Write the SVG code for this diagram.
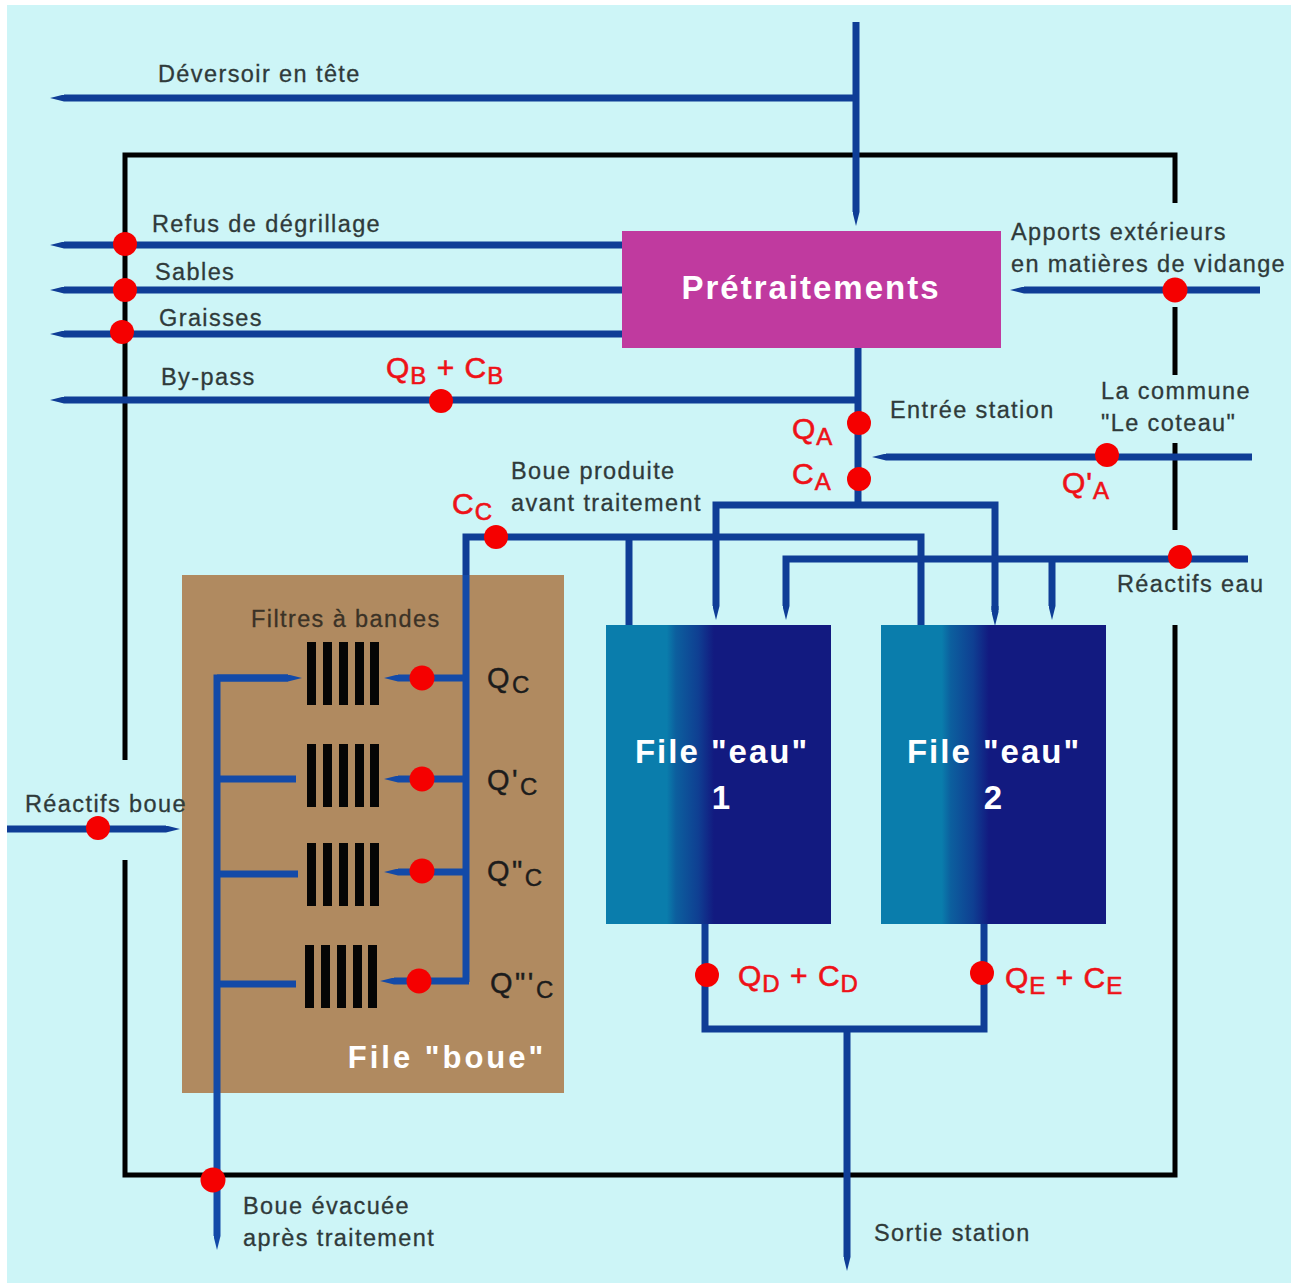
<svg xmlns="http://www.w3.org/2000/svg" width="1293" height="1283" viewBox="0 0 1293 1283">
<style>
text{font-family:"Liberation Sans",Arial,sans-serif}
.l{font-size:23.5px;fill:#2f3a3a;stroke:#2f3a3a;stroke-width:.3;letter-spacing:1.4px}
.q{font-size:30px;fill:#ee1118;stroke:#ee1118;stroke-width:.6;letter-spacing:1px}
.k{font-size:29px;fill:#1c1c1c;stroke:#1c1c1c;stroke-width:.4;letter-spacing:2.5px}
.t{fill:#fff;font-weight:bold;text-anchor:middle;letter-spacing:2px}
.s{font-size:24px}
.b{fill:none;stroke:#0f3d96;stroke-width:7}
.g{fill:none;stroke:#134aa8;stroke-width:7}
.e{marker-end:url(#tip)}
.h{marker-end:url(#tipg)}
.f{fill:none;stroke:#000;stroke-width:5}
.d{fill:#f50000}
.bar{fill:#050505}
</style>
<defs>
<marker id="tip" viewBox="0 0 2 1" refX="0" refY="0.5" markerWidth="2" markerHeight="1" orient="auto"><path d="M0 0L2 .5L0 1Z" fill="#0f3d96"/></marker>
<marker id="tipg" viewBox="0 0 2 1" refX="0" refY="0.5" markerWidth="2" markerHeight="1" orient="auto"><path d="M0 0L2 .5L0 1Z" fill="#134aa8"/></marker>
<linearGradient id="eau" x1="0" x2="1" y1="0" y2="0"><stop offset="0.27" stop-color="#0a7dac"/><stop offset="0.31" stop-color="#0c5f9e"/><stop offset="0.41" stop-color="#0f3f92"/><stop offset="0.48" stop-color="#121a80"/><stop offset="1" stop-color="#121a80"/></linearGradient>
<g id="filter"><rect class="bar" x="0" width="9" height="63"/><rect class="bar" x="16" width="9" height="63"/><rect class="bar" x="32" width="9" height="63"/><rect class="bar" x="48" width="9" height="63"/><rect class="bar" x="63" width="9" height="63"/></g>
</defs>
<rect width="1293" height="1283" fill="#fff"/>
<rect x="7" y="5" width="1284" height="1278" fill="#cdf5f7"/>
<g id="frame">
<path class="f" d="M125 760V155H1175V203M1175 307V375M1175 443V530M1175 625V1175H125V860"/>
</g>
<g id="file-boue"><rect x="182" y="575" width="382" height="518" fill="#b08a60"/><text class="t" x="447" y="1068" font-size="31" style="letter-spacing:3px">File "boue"</text><text class="l" x="251" y="627" style="fill:#3b3226;stroke:#3b3226">Filtres à bandes</text>
<use href="#filter" x="307" y="642"/><use href="#filter" x="307" y="744"/><use href="#filter" x="307" y="843"/><use href="#filter" x="305" y="945"/></g>
<g id="pretraitements"><rect x="622" y="231" width="379" height="117" fill="#c03a9f"/><text class="t" x="811" y="299" font-size="33">Prétraitements</text></g>
<g id="file-eau-1"><rect x="606" y="625" width="225" height="299" fill="url(#eau)"/><text class="t" x="722" y="763" font-size="33">File "eau"</text><text class="t" x="722" y="809" font-size="33">1</text></g>
<g id="file-eau-2"><rect x="881" y="625" width="225" height="299" fill="url(#eau)"/><text class="t" x="994" y="763" font-size="33">File "eau"</text><text class="t" x="994" y="809" font-size="33">2</text></g>
<g id="connectors">
<path class="b e" d="M856 22V212"/>
<path class="b e" d="M856 98H64"/>
<path class="b e" d="M622 245H64"/><path class="b e" d="M622 290H64"/><path class="b e" d="M622 334H64"/>
<path class="b e" d="M858 400H64"/>
<path class="b" d="M858 348V505"/>
<path class="b" d="M716 600V505H995V610"/><path class="b e" d="M716 600V606"/><path class="b e" d="M995 606V612"/>
<path class="b" d="M629 625V537"/>
<path class="b" d="M921 625V537H466V575"/>
<path class="b e" d="M1248 559H786V606"/>
<path class="b e" d="M1052 559V606"/>
<path class="b e" d="M1252 457H886"/>
<path class="b e" d="M1260 290H1024"/>
<path class="b e" d="M7 829H166"/>
<path class="g" d="M466 575V982"/>
<path class="g h" d="M288 678H217V1236"/>
<path class="g h" d="M217 678H288"/><path class="g" d="M217 779H296"/><path class="g" d="M217 874H298"/><path class="g" d="M217 984H296"/>
<path class="g h" d="M466 678H398"/><path class="g h" d="M466 779H398"/><path class="g h" d="M466 872H398"/><path class="g h" d="M469 981H394"/>
<path class="b" d="M705 924V1029H984V924"/>
<path class="b e" d="M847 1029V1257"/>
</g>
<g id="points">
<circle class="d" cx="125" cy="244" r="12"/><circle class="d" cx="125" cy="290" r="12"/><circle class="d" cx="122" cy="332" r="12"/>
<circle class="d" cx="441" cy="401" r="12"/><circle class="d" cx="859" cy="423" r="12"/><circle class="d" cx="859" cy="479" r="12"/>
<circle class="d" cx="1107" cy="455" r="12"/><circle class="d" cx="1175" cy="290" r="12.5"/><circle class="d" cx="1180" cy="557" r="12"/>
<circle class="d" cx="496" cy="537" r="12"/><circle class="d" cx="422" cy="678" r="12.5"/><circle class="d" cx="422" cy="779" r="12.5"/>
<circle class="d" cx="422" cy="871" r="12.5"/><circle class="d" cx="419" cy="981" r="12.5"/><circle class="d" cx="98" cy="828" r="12"/>
<circle class="d" cx="707" cy="975" r="12"/><circle class="d" cx="982" cy="973" r="12"/><circle class="d" cx="213" cy="1180" r="12.5"/>
</g>
<g id="labels">
<text class="l" x="158" y="82">Déversoir en tête</text>
<text class="l" x="152" y="232">Refus de dégrillage</text>
<text class="l" x="155" y="280">Sables</text>
<text class="l" x="159" y="326">Graisses</text>
<text class="l" x="161" y="385">By-pass</text>
<text class="l" x="1011" y="240">Apports extérieurs</text>
<text class="l" x="1011" y="272">en matières de vidange</text>
<text class="l" x="890" y="418">Entrée station</text>
<text class="l" x="1101" y="399">La commune</text>
<text class="l" x="1101" y="431">"Le coteau"</text>
<text class="l" x="511" y="479">Boue produite</text>
<text class="l" x="511" y="511">avant traitement</text>
<text class="l" x="1117" y="592">Réactifs eau</text>
<text class="l" x="25" y="812">Réactifs boue</text>
<text class="l" x="243" y="1214">Boue évacuée</text>
<text class="l" x="243" y="1246">après traitement</text>
<text class="l" x="874" y="1241">Sortie station</text>
<text class="q" x="386" y="378">Q<tspan class="s" dy="6">B</tspan><tspan dy="-6"> + C</tspan><tspan class="s" dy="6">B</tspan></text>
<text class="q" x="792" y="439">Q<tspan class="s" dy="6">A</tspan></text>
<text class="q" x="792" y="484">C<tspan class="s" dy="6">A</tspan></text>
<text class="q" x="1062" y="493">Q'<tspan class="s" dy="6">A</tspan></text>
<text class="q" x="452" y="514">C<tspan class="s" dy="6">C</tspan></text>
<text class="q" x="738" y="986">Q<tspan class="s" dy="6">D</tspan><tspan dy="-6"> + C</tspan><tspan class="s" dy="6">D</tspan></text>
<text class="q" x="1005" y="988">Q<tspan class="s" dy="6">E</tspan><tspan dy="-6"> + C</tspan><tspan class="s" dy="6">E</tspan></text>
<text class="k" x="487" y="688">Q<tspan class="s" dy="5">C</tspan></text>
<text class="k" x="487" y="790">Q'<tspan class="s" dy="5">C</tspan></text>
<text class="k" x="487" y="881">Q"<tspan class="s" dy="5">C</tspan></text>
<text class="k" x="490" y="993">Q"'<tspan class="s" dy="5">C</tspan></text>
</g>
</svg>
